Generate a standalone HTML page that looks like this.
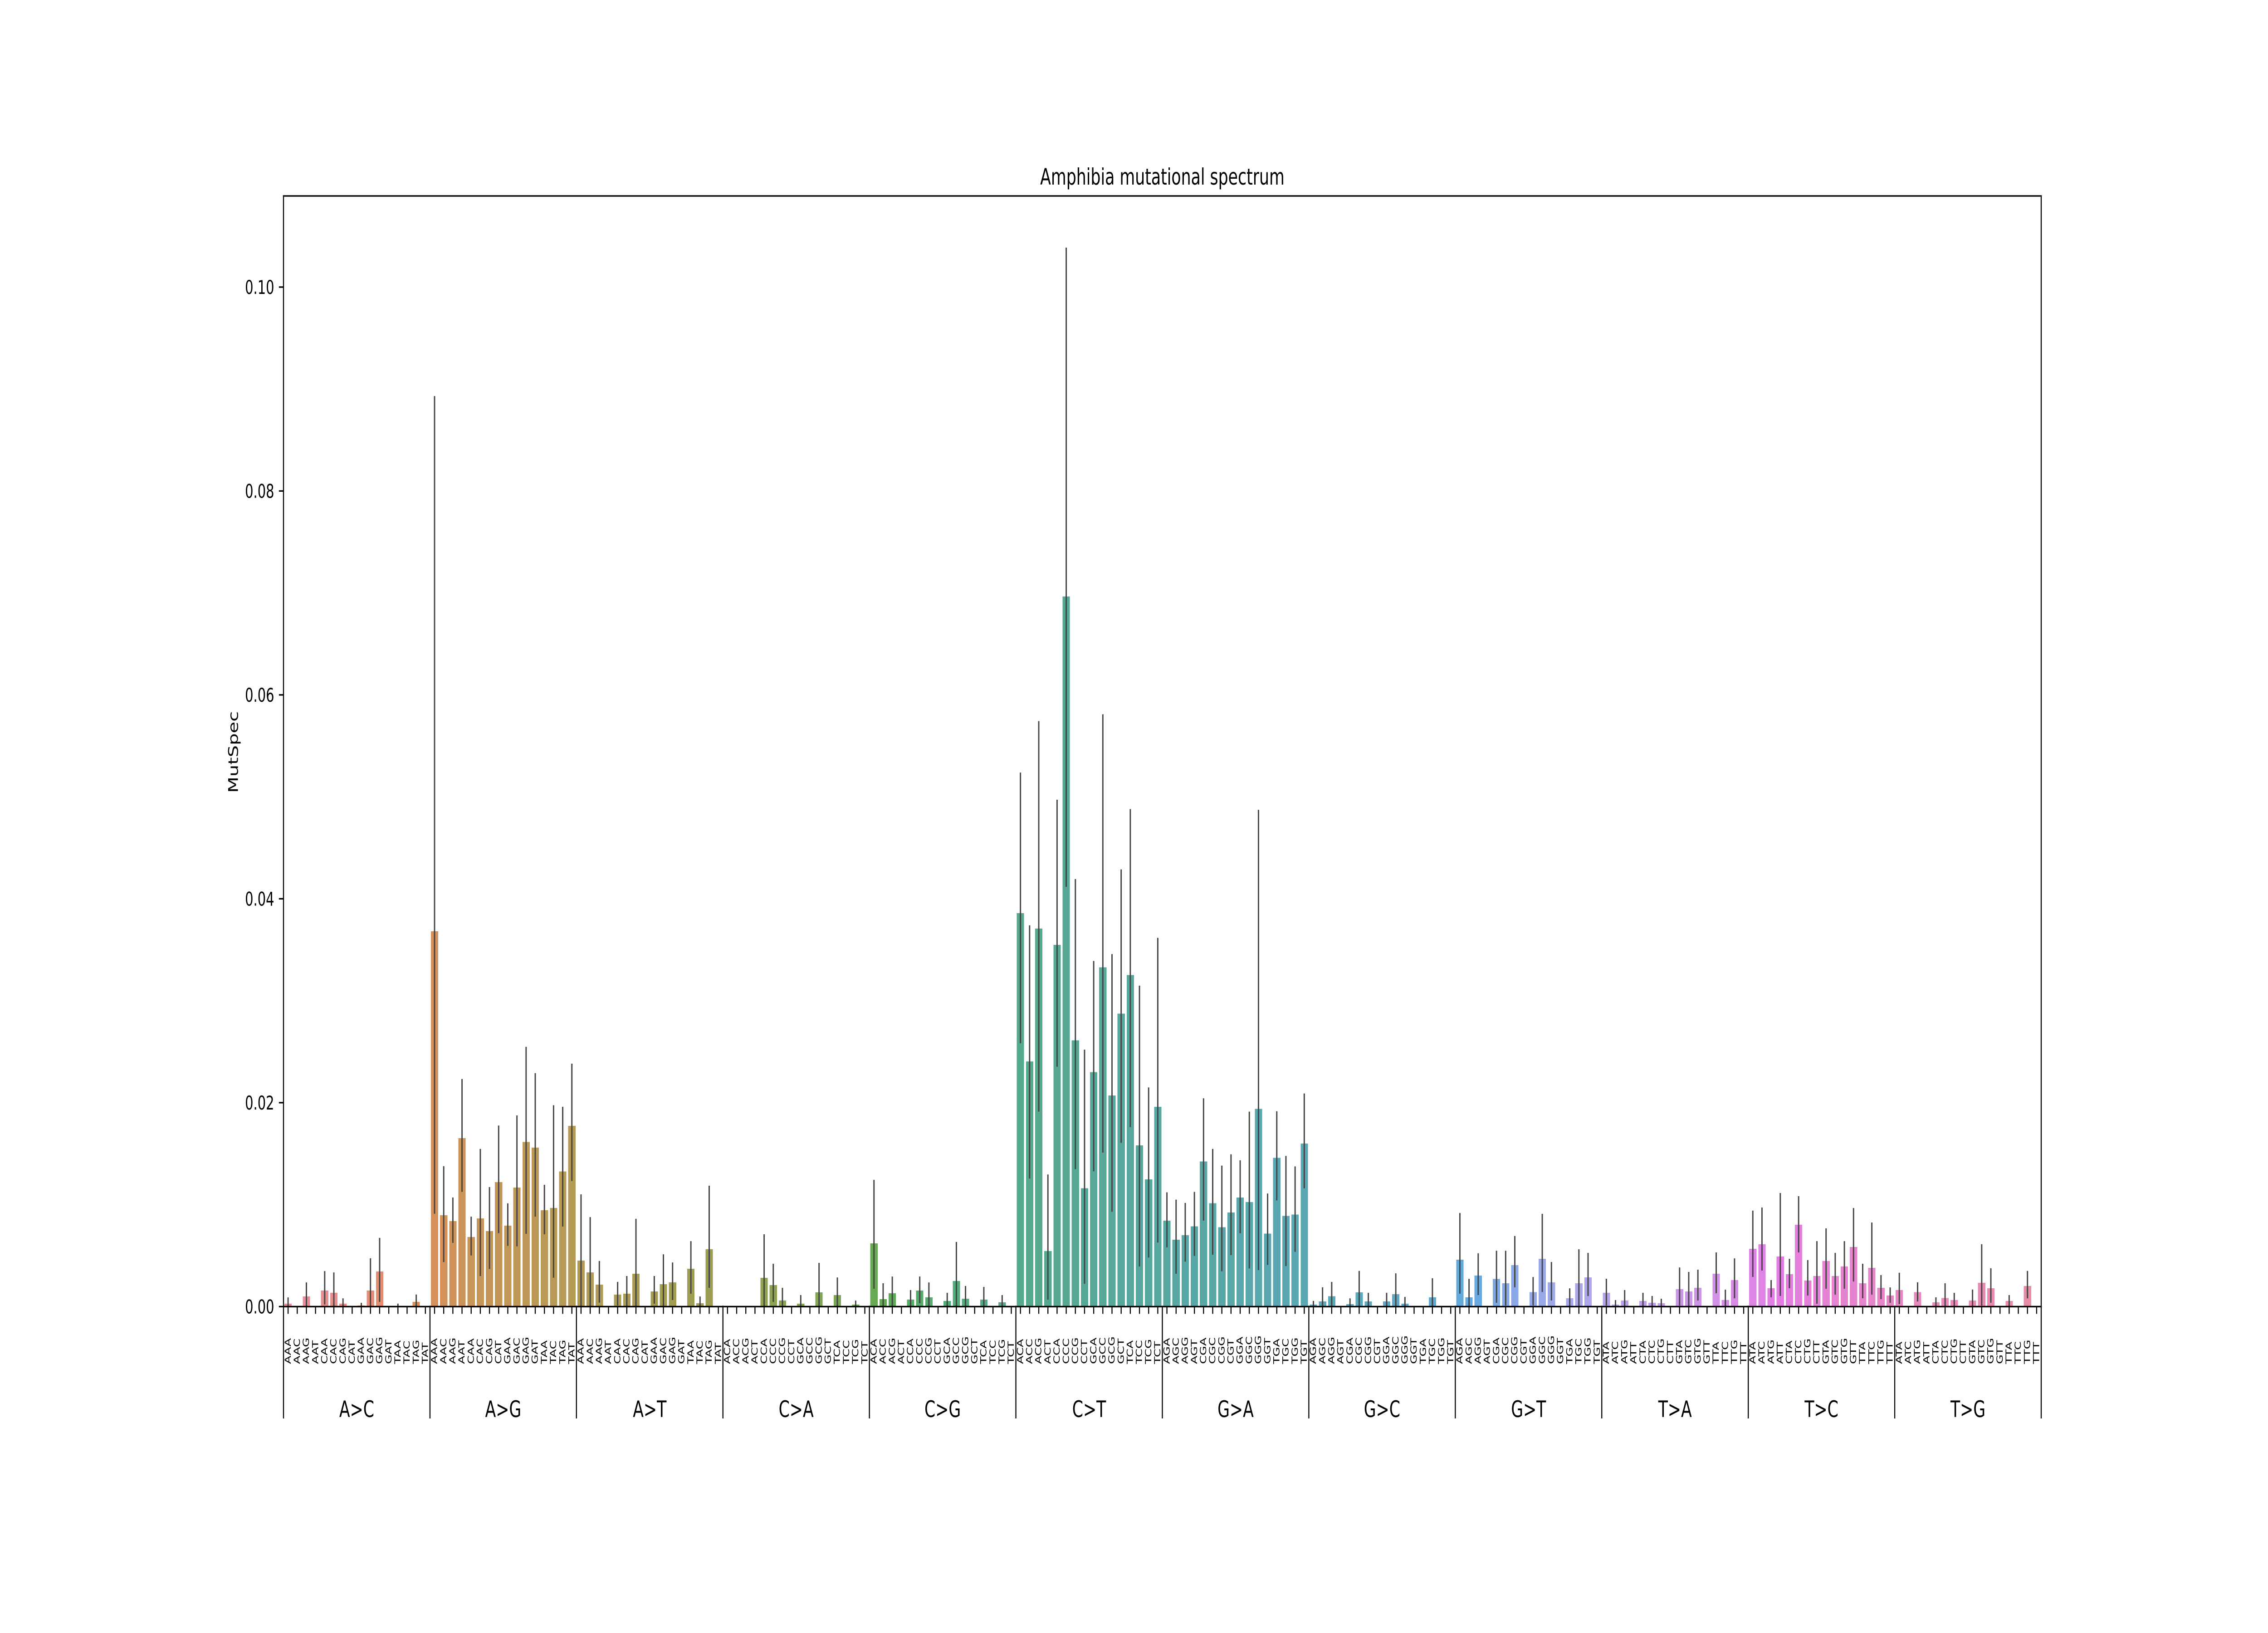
<!DOCTYPE html>
<html lang="en">
<head>
<meta charset="utf-8">
<title>Amphibia mutational spectrum</title>
<!-- The SVG deliberately fills the viewport without preserving aspect ratio: undistorted at 7200x3600, squeezed at any other viewport aspect. -->
<style>
html,body{margin:0;padding:0;background:#fff;width:100%;height:100%;overflow:hidden;}
svg{display:block;width:100vw;height:100vh;}
text{font-family:"DejaVu Sans","Liberation Sans",sans-serif;fill:#000;}
</style>
</head>
<body>
<svg id="chart" xmlns="http://www.w3.org/2000/svg" viewBox="0 0 7200 3600" preserveAspectRatio="none">
  <rect x="0" y="0" width="7200" height="3600" fill="#ffffff"/>
  <g id="bars"></g>
  <g id="errors"></g>
  <g id="xticks"></g>
  <g id="yticks"></g>
  <g id="groups"></g>
  <g id="spines"></g>
  <text x="3690" y="407" font-size="50" text-anchor="middle">Amphibia mutational spectrum</text>
  <text transform="translate(755,1658) rotate(-90)" font-size="41.67" text-anchor="middle">MutSpec</text>
</svg>
<script>
const mutationTypes = ["A>C","A>G","A>T","C>A","C>G","C>T","G>A","G>C","G>T","T>A","T>C","T>G"];
const categories = [
"AAA","AAC","AAG","AAT","CAA","CAC","CAG","CAT","GAA","GAC","GAG","GAT","TAA","TAC","TAG","TAT",
"AAA","AAC","AAG","AAT","CAA","CAC","CAG","CAT","GAA","GAC","GAG","GAT","TAA","TAC","TAG","TAT",
"AAA","AAC","AAG","AAT","CAA","CAC","CAG","CAT","GAA","GAC","GAG","GAT","TAA","TAC","TAG","TAT",
"ACA","ACC","ACG","ACT","CCA","CCC","CCG","CCT","GCA","GCC","GCG","GCT","TCA","TCC","TCG","TCT",
"ACA","ACC","ACG","ACT","CCA","CCC","CCG","CCT","GCA","GCC","GCG","GCT","TCA","TCC","TCG","TCT",
"ACA","ACC","ACG","ACT","CCA","CCC","CCG","CCT","GCA","GCC","GCG","GCT","TCA","TCC","TCG","TCT",
"AGA","AGC","AGG","AGT","CGA","CGC","CGG","CGT","GGA","GGC","GGG","GGT","TGA","TGC","TGG","TGT",
"AGA","AGC","AGG","AGT","CGA","CGC","CGG","CGT","GGA","GGC","GGG","GGT","TGA","TGC","TGG","TGT",
"AGA","AGC","AGG","AGT","CGA","CGC","CGG","CGT","GGA","GGC","GGG","GGT","TGA","TGC","TGG","TGT",
"ATA","ATC","ATG","ATT","CTA","CTC","CTG","CTT","GTA","GTC","GTG","GTT","TTA","TTC","TTG","TTT",
"ATA","ATC","ATG","ATT","CTA","CTC","CTG","CTT","GTA","GTC","GTG","GTT","TTA","TTC","TTG","TTT",
"ATA","ATC","ATG","ATT","CTA","CTC","CTG","CTT","GTA","GTC","GTG","GTT","TTA","TTC","TTG","TTT"
];
const values = [
.00029,0,.0010,0,.00157,.00135,.00029,0,.00011,.00157,.00345,0,.00005,0,.00046,0,
.03682,.00897,.00839,.01653,.00682,.00865,.00741,.0122,.00793,.01168,.01615,.0156,.00946,.00968,.01325,.01773,
.00451,.00335,.00215,0,.00117,.00126,.00322,0,.00148,.0022,.00237,0,.00371,.00033,.00562,0,
0,0,0,0,.00282,.00211,.00059,0,.00028,0,.00139,0,.00113,0,.00019,0,
.0062,.00073,.00131,0,.00068,.00157,.00091,0,.00055,.00251,.00077,0,.00068,0,.00042,0,
.03859,.02405,.03708,.00544,.03549,.06965,.02611,.0116,.02301,.03327,.02071,.02873,.03251,.01582,.01248,.01959,
.00843,.00656,.007,.00787,.01423,.01013,.00779,.00922,.01069,.01025,.0194,.00715,.01459,.0089,.00902,.01598,
.0002,.0005,.00103,0,.00024,.00139,.0005,0,.0005,.00121,.00028,0,0,.00091,0,0,
.00461,.00091,.00304,0,.00272,.00229,.00407,0,.00143,.00469,.00238,0,.00081,.00229,.00286,0,
.00135,.00019,.00059,0,.00055,.00037,.00033,0,.00171,.00148,.00184,0,.00322,.00064,.0026,0,
.00567,.00611,.0018,.00491,.00318,.00803,.00255,.003,.00447,.003,.00393,.00585,.00229,.0038,.00184,.00108,
.00161,0,.00143,0,.00042,.00085,.00064,0,.0006,.00233,.00179,0,.00056,0,.00203,0
];
const errHigh = [
.0009,0,.00237,0,.00348,.00335,.00081,0,.00037,.00474,.00674,0,.00029,0,.00118,0,
.08931,.01377,.0107,.02232,.00882,.01546,.01172,.01776,.01013,.01875,.02548,.0229,.01195,.01975,.0196,.02383,
.01101,.00878,.00447,0,.00242,.003,.00861,0,.003,.00513,.00433,0,.00642,.00099,.01186,0,
0,0,0,0,.00709,.0042,.00184,0,.00113,0,.00429,0,.00286,0,.00059,0,
.01243,.00229,.00295,0,.00162,.00295,.00237,0,.00135,.00634,.00202,0,.00193,0,.00113,0,
.05238,.0374,.05743,.01296,.04972,.10387,.04193,.0252,.0339,.0581,.03458,.04288,.0488,.03148,.0215,.03617,
.01121,.01049,.01017,.01125,.02043,.01546,.01383,.01494,.01435,.01912,.04873,.01109,.01916,.01478,.01375,.0209,
.00056,.00189,.00242,0,.00081,.0035,.00135,0,.00135,.00326,.00095,0,0,.00278,0,0,
.00918,.00272,.00523,0,.00548,.00548,.00692,0,.0029,.0091,.00437,0,.00179,.00562,.00527,0,
.00273,.00064,.00162,0,.00135,.00104,.00077,0,.00384,.0034,.00362,0,.00531,.00166,.00473,0,
.00941,.00972,.0026,.01114,.00469,.01083,.00456,.00642,.00767,.00527,.00642,.00967,.0042,.00825,.00309,.00188,
.00332,0,.00238,0,.00091,.00229,.00135,0,.00167,.00612,.00376,0,.00113,0,.0035,0
];
const errLow = [
0,0,0,0,.0002,0,0,0,0,0,.00046,0,0,0,0,0,
.00911,.00437,.00625,.01126,.00501,.003,.00369,.0072,.00595,.00591,.00714,.00882,.00709,.00283,.00785,.01232,
0,0,.00039,0,.00012,0,0,0,.00028,0,.00064,0,.00126,0,.00184,0,
0,0,0,0,0,.00046,0,0,0,0,0,0,0,0,0,0,
.00175,0,0,0,0,.00033,0,0,0,0,0,0,0,0,0,0,
.02583,.01256,.01912,.00068,.02353,.04117,.01347,.00223,.01327,.0151,.0093,.01606,.01761,.00393,.00481,.00628,
.0058,.00322,.00441,.00497,.00843,.00509,.00346,.00505,.00719,.00374,.00358,.00409,.01041,.00397,.00537,.0116,
0,0,0,0,0,0,0,0,0,0,0,0,0,0,0,0,
.00127,0,.00113,0,.00038,.00012,.00189,0,.00012,.00143,.0006,0,0,0,.00103,0,
.0001,0,0,0,0,0,0,0,.0001,0,.00059,0,.00131,0,.00082,0,
.00291,.00353,.00091,.00104,.0018,.00531,.00108,.00028,.00175,.00117,.00175,.00246,.00082,.00117,.00073,.00037,
.00024,0,.0005,0,0,0,0,0,0,.0001,.00038,0,0,0,.00081,0
];
const yTickValues = [0, 0.02, 0.04, 0.06, 0.08, 0.10];
const yTickLabels = ["0.00","0.02","0.04","0.06","0.08","0.10"];

const SVGNS = "http://www.w3.org/2000/svg";
const plotLeft = 900, plotRight = 6480, plotTop = 432, plotBottom = 2880.4;
const yUnit = 22475;
const bandWidth = (plotRight - plotLeft) / categories.length;
const xBand = i => plotLeft + (i + 0.5) * bandWidth;
const yVal = v => plotBottom - v * yUnit;

function mk(tag, attrs, parent) {
  const el = document.createElementNS(SVGNS, tag);
  for (const k in attrs) el.setAttribute(k, attrs[k]);
  parent.appendChild(el);
  return el;
}

/* seaborn-like HUSL palette, desaturated like a barplot */
const HM = [[3.2406,-1.5372,-0.4986],[-0.9689,1.8758,0.0415],[0.0557,-0.2040,1.0570]];
function maxChroma(L, H) {
  const r = H * Math.PI / 180, sinH = Math.sin(r), cosH = Math.cos(r);
  const sub1 = Math.pow(L + 16, 3) / 1560896;
  const sub2 = sub1 > 0.008856 ? sub1 : L / 903.3;
  let best = Infinity;
  for (const [m1, m2, m3] of HM) {
    const top = (0.99915 * m1 + 1.05122 * m2 + 1.14460 * m3) * sub2;
    const rb = 0.86330 * m3 - 0.17266 * m2;
    const lb = 0.12949 * m3 - 0.38848 * m1;
    const bottom = (rb * sinH + lb * cosH) * sub2;
    for (const t of [0, 1]) {
      const C = L * (top - 1.05122 * t) / (bottom + 0.17266 * sinH * t);
      if (C > 0 && C < best) best = C;
    }
  }
  return best;
}
function huslRgb(H, S, L) {
  const C = maxChroma(L, H) * S / 100, r = H * Math.PI / 180;
  const U = C * Math.cos(r), V = C * Math.sin(r);
  const t = (L + 16) / 116, t3 = t * t * t;
  const Y = t3 > 0.008856 ? t3 : (116 * t - 16) / 903.3;
  const u = U / (13 * L) + 0.19784, v = V / (13 * L) + 0.46834;
  const X = -(9 * Y * u) / ((u - 4) * v - u * v);
  const Z = (9 * Y - 15 * v * Y - v * X) / (3 * v);
  return HM.map(m => {
    const c = m[0] * X + m[1] * Y + m[2] * Z;
    const g = c <= 0.0031308 ? 12.92 * c : 1.055 * Math.pow(c, 1 / 2.4) - 0.055;
    return Math.min(1, Math.max(0, g));
  });
}
function desaturate([r, g, b], f) {
  const mx = Math.max(r, g, b), mn = Math.min(r, g, b), l = (mx + mn) / 2;
  const d = mx - mn;
  if (d === 0) return [r, g, b];
  return [r, g, b].map(c => l + (c - l) * f);
}
function barColor(i, n) {
  const h = ((i / n + 0.01) % 1) * 359;
  const rgb = desaturate(huslRgb(h, 0.9 * 99, 0.65 * 99), 0.75);
  return "rgb(" + rgb.map(c => Math.round(c * 255)).join(",") + ")";
}

const barsG = document.getElementById("bars");
const errG = document.getElementById("errors");
const xtG = document.getElementById("xticks");
const ytG = document.getElementById("yticks");
const grG = document.getElementById("groups");
const spG = document.getElementById("spines");

categories.forEach((cat, i) => {
  const cx = xBand(i);
  const typeName = mutationTypes[Math.floor(i / 16)];
  const key = typeName.replace(">", "-").toLowerCase() + "-" + cat.toLowerCase();
  if (values[i] > 0) {
    const y = yVal(values[i]);
    const bar = mk("rect", {x: cx - bandWidth * 0.4, y: y, width: bandWidth * 0.8, height: plotBottom - y, fill: barColor(i, categories.length), "fill-opacity": 0.9, "shape-rendering": "crispEdges"}, barsG);
    
    
  }
  if (errHigh[i] > 0) {
    const err = mk("line", {x1: cx, x2: cx, y1: yVal(errLow[i]), y2: yVal(errHigh[i]), stroke: "#424242", "stroke-width": 4.17}, errG);
    
    
  }
  const tick = mk("line", {x1: cx, x2: cx, y1: plotBottom, y2: plotBottom + 16, stroke: "#000", "stroke-width": 3.33}, xtG);
  
  
  const label = mk("text", {transform: "translate(" + (cx + 8.2) + ",3007) rotate(-90)", "font-size": 27.08}, xtG);
  label.textContent = cat;
  
  
});

yTickValues.forEach((v, i) => {
  const y = yVal(v);
  const tick = mk("line", {x1: plotLeft - 14.6, x2: plotLeft, y1: y, y2: y, stroke: "#000", "stroke-width": 3.33}, ytG);
  
  
  const label = mk("text", {x: 870.5, y: y + 15.2, "font-size": 41.67, "text-anchor": "end"}, ytG);
  label.textContent = yTickLabels[i];
  
  
});

const typeWidth = (plotRight - plotLeft) / mutationTypes.length;
mutationTypes.forEach((t, i) => {
  const x0 = plotLeft + i * typeWidth;
  const sep = mk("line", {x1: x0, x2: x0, y1: plotBottom - 2, y2: 3127, stroke: "#000", "stroke-width": 3.33}, grG);
  
  
  const lab = mk("text", {x: x0 + typeWidth / 2, y: 3124, "font-size": 50, "text-anchor": "middle"}, grG);
  lab.textContent = t;
  
  
});
const lastSep = mk("line", {x1: plotRight, x2: plotRight, y1: plotBottom, y2: 3127, stroke: "#000", "stroke-width": 3.33}, grG);



[["spine-top", plotLeft, plotTop, plotRight, plotTop],
 ["spine-bottom", plotLeft, plotBottom, plotRight, plotBottom],
 ["spine-left", plotLeft, plotTop, plotLeft, plotBottom],
 ["spine-right", plotRight, plotTop, plotRight, plotBottom]].forEach(s => {
  const line = mk("line", {x1: s[1], y1: s[2], x2: s[3], y2: s[4], stroke: "#000", "stroke-width": 3.33, "stroke-linecap": "square"}, spG);
  
  
});
</script>
</body>
</html>
